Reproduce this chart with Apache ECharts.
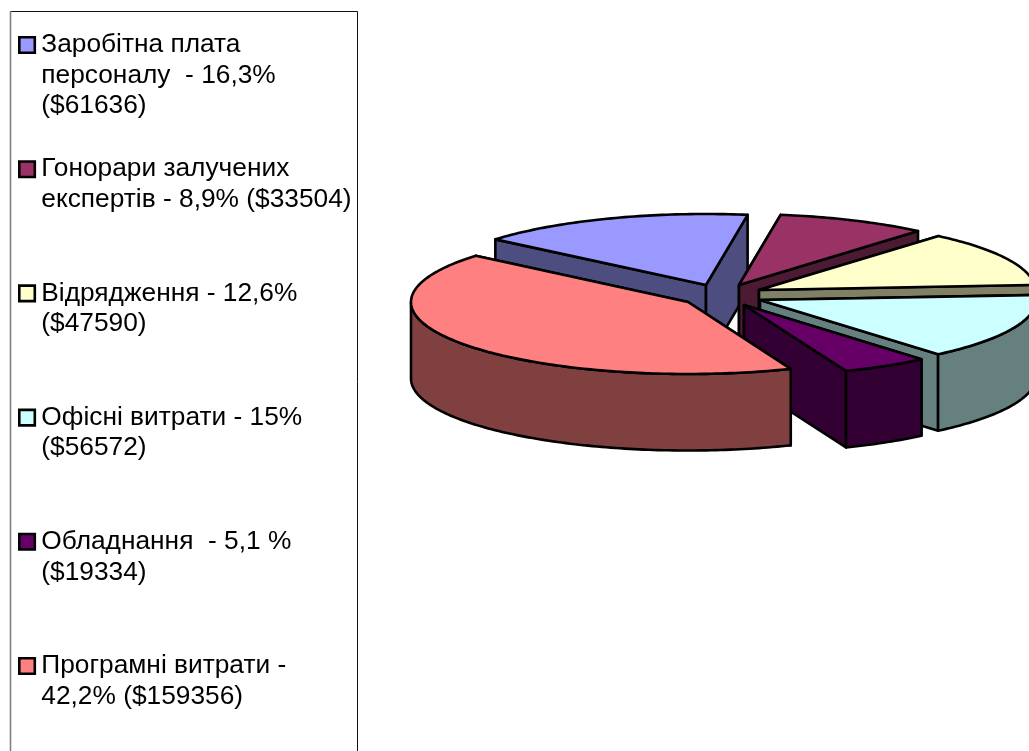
<!DOCTYPE html>
<html><head><meta charset="utf-8">
<style>html,body{margin:0;padding:0;background:#fff;overflow:hidden}#c{width:1029px;height:751px}</style>
<script src="https://cdn.jsdelivr.net/npm/echarts@6/dist/echarts.min.js"></script>
</head><body><div id="c"></div>
<script>
const categories = [
  'Заробітна плата\nперсоналу  - 16,3%\n($61636)',
  'Гонорари залучених\nекспертів - 8,9% ($33504)',
  'Відрядження - 12,6%\n($47590)',
  'Офісні витрати - 15%\n($56572)',
  'Обладнання  - 5,1 %\n($19334)',
  'Програмні витрати -\n42,2% ($159356)'
];
const amounts = [61636, 33504, 47590, 56572, 19334, 159356];
const topColors = ['#9999ff', '#993366', '#ffffcc', '#ccffff', '#660066', '#ff8080'];
const wallColors = ['#4d4d80', '#4d1a33', '#808066', '#668080', '#330033', '#804040'];

// 3D pie layout
const explodedCentres = [[706,285],[739,285],[759,290],[760,300],[744,305],[688,302]];
const radiiX = [275,275,276,276,275,277];
const radiiY = [71,71,71,71,71,72];
const DEPTH = 76.5, START = 140;
const LINE_H = 30.5;
const total = amounts.reduce((a,b)=>a+b,0);

function makeRender(idx){
  const before = amounts.slice(0,idx).reduce((a,b)=>a+b,0);
  return function(params, api){
    const v = api.value(0);
    const a0 = START - before/total*360, a1 = a0 - v/total*360;
    const [cx,cy] = explodedCentres[idx], rx = radiiX[idx], ry = radiiY[idx];
    const pt = d => [cx+rx*Math.cos(d*Math.PI/180), cy-ry*Math.sin(d*Math.PI/180)];
    const down = p => [p[0], p[1]+DEPTH];
    const arc = [];
    const n = Math.ceil(a0-a1);
    for(let i=0;i<=n;i++) arc.push(pt(a0+(a1-a0)*i/n));
    const apex=[cx,cy], p0=arc[0], p1=arc[arc.length-1];
    const st=(fill)=>({fill, stroke:'#000', lineWidth:2.6, lineJoin:'round'});
    const wallFill = wallColors[idx];
    const children=[];
    children.push({type:'polygon',shape:{points:[apex,p0,down(p0),down(apex)]},style:st(wallFill)});
    children.push({type:'polygon',shape:{points:[apex,p1,down(p1),down(apex)]},style:st(wallFill)});
    // visible outer wall: front half of the ellipse only
    const front=[];
    for(let i=0;i<=n;i++){
      const d=a0+(a1-a0)*i/n, s=Math.sin(d*Math.PI/180);
      if(s<=0.0001) front.push(pt(d));
    }
    if(idx===3) front.unshift(pt(0));
    if(idx===5) front.push(pt(-180));
    if(front.length>1){
      children.push({type:'polygon',shape:{points:front.concat(front.slice().reverse().map(down))},style:st(wallFill)});
    }
    children.push({type:'polygon',shape:{points:[apex].concat(arc)},style:st(topColors[idx])});
    return {type:'group',children};
  };
}

const chart = echarts.init(document.getElementById('c'),null,{renderer:'canvas'});
chart.setOption({
  animation:false,
  backgroundColor:'#fff',
  graphic:[
    {type:'rect',silent:true,z:0,shape:{x:10.5,y:11.5,width:347,height:800},style:{fill:'none',stroke:'#111',lineWidth:1}},
    {type:'line',silent:true,z:1,shape:{x1:10.5,y1:11,x2:10.5,y2:751},style:{stroke:'#808080',lineWidth:1.6}}
  ],
  legend: categories.map((name,i)=>{
    const lines = name.split('\n');
    const text = ['', ''].concat(lines);
    while(text.length<5) text.push(' ');
    const padded = text.join('\n');
    return {
      show:true, orient:'vertical', left:18, top:45-(2.5*LINE_H+3.5)+124.2*i, padding:0,
      icon:'rect', itemWidth:15.5, itemHeight:15.5, itemGap:0, selectedMode:false,
      itemStyle:{color:topColors[i],borderColor:'#000',borderWidth:2.6},
      textStyle:{fontFamily:'Liberation Sans',fontSize:26.3,lineHeight:LINE_H,color:'#000',padding:[7,0,0,1.5]},
      data:[name], formatter:()=>padded
    };
  }),
  series: categories.map((name,i)=>({
    type:'custom', name, coordinateSystem:'none', silent:true, z:2+i,
    itemStyle:{color:topColors[i]},
    renderItem:makeRender(i), data:[[amounts[i]]]
  }))
});
</script></body></html>
